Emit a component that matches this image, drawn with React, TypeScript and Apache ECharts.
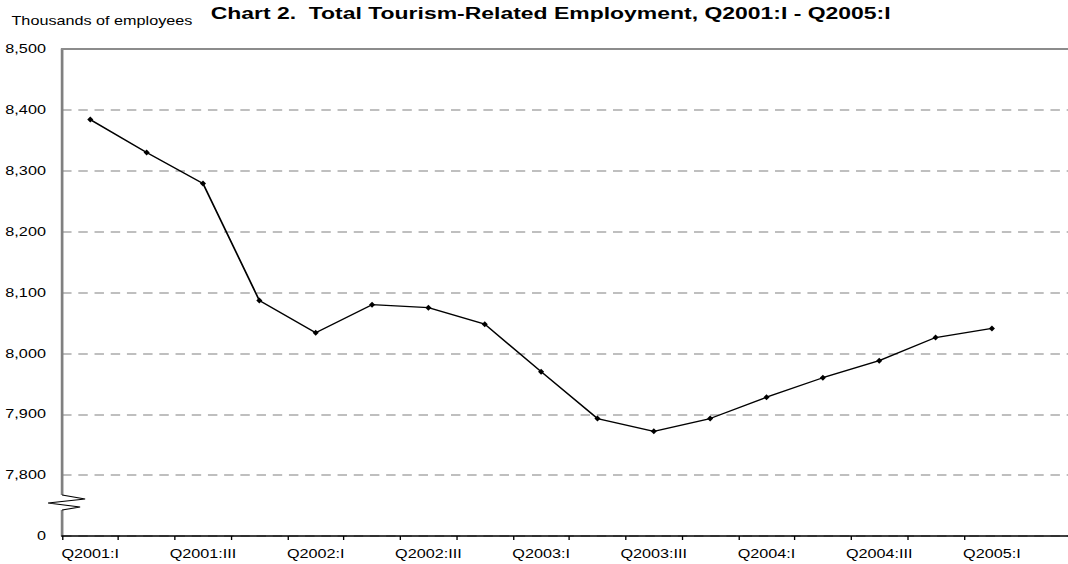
import React, { useEffect, useRef } from "react";
import * as echarts from "echarts";

// ---- data ----
const quarters = [
  "Q2001:I", "Q2001:II", "Q2001:III", "Q2001:IV",
  "Q2002:I", "Q2002:II", "Q2002:III", "Q2002:IV",
  "Q2003:I", "Q2003:II", "Q2003:III", "Q2003:IV",
  "Q2004:I", "Q2004:II", "Q2004:III", "Q2004:IV",
  "Q2005:I",
];
const employment = [
  8384, 8330, 8279, 8087,
  8034, 8080, 8075, 8048,
  7970, 7893, 7872, 7893,
  7928, 7960, 7988, 8026,
  8041,
];
const yMin = 7700; // shown as "0" (broken axis)
const yMax = 8500;
const yStep = 100;
const titleText = "Chart 2.  Total Tourism-Related Employment, Q2001:I - Q2005:I";
const unitText = "Thousands of employees";

// horizontal stretch of the reference picture
const FULL_W = 1068;
const H = 564;
const W = 791;
const S = FULL_W / W;
const X_MAX = 17.85;

export default function App() {
  const ref = useRef<HTMLDivElement>(null);
  useEffect(() => {
    if (!ref.current) return;
    const chart = echarts.init(ref.current, null, { renderer: "svg" });
    const font = "'Liberation Sans', Arial, Helvetica, sans-serif";
    const tickVals = quarters.map((_, i) => i);
    const labelVals = quarters.map((_, i) => i + 0.5).filter((_, i) => i % 2 === 0);
    chart.setOption({
      animation: false,
      backgroundColor: "#ffffff",
      title: [
        {
          text: titleText,
          left: 156,
          top: 5,
          padding: 0,
          textStyle: { fontFamily: font, fontSize: 17, fontWeight: "bold", color: "#000" },
        },
        {
          text: unitText,
          left: 8.5,
          top: 15,
          padding: 0,
          textStyle: { fontFamily: font, fontSize: 12, fontWeight: "normal", color: "#000" },
        },
      ],
      grid: { left: 46, right: 0, top: 49, bottom: 28, containLabel: false },
      xAxis: [
        {
          type: "value",
          min: 0,
          max: X_MAX,
          interval: 1,
          axisLine: { show: true, onZero: false, lineStyle: { color: "#000", width: 1.5 } },
          axisTick: {
            show: true,
            length: 4,
            customValues: tickVals,
            lineStyle: { color: "#000", width: 1 },
          },
          axisLabel: {
            show: true,
            customValues: labelVals,
            margin: 12,
            fontFamily: font,
            fontSize: 12,
            color: "#000",
            formatter: (v: number) => {
              const i = Math.round(v - 0.5);
              if (Math.abs(v - 0.5 - i) < 1e-6 && i >= 0 && i < quarters.length) return quarters[i];
              return "";
            },
          },
          splitLine: { show: false },
        },
        {
          type: "value",
          position: "top",
          min: 0,
          max: X_MAX,
          axisLine: { show: true, lineStyle: { color: "#8c8c8c", width: 2 } },
          axisTick: { show: false },
          axisLabel: { show: false },
          splitLine: { show: false },
        },
      ],
      yAxis: {
        type: "value",
        min: yMin,
        max: yMax,
        interval: yStep,
        axisLine: { show: true, lineStyle: { color: "#808080", width: 2 } },
        axisTick: { show: false },
        axisLabel: {
          margin: 12,
          padding: [3, 0, 0, 0],
          fontFamily: font,
          fontSize: 12,
          color: "#000",
          formatter: (v: number) => (v === yMin ? "0" : v.toLocaleString("en-US")),
        },
        splitLine: {
          show: true,
          lineStyle: { type: [7, 5], color: "#aaaaaa", width: 1.5 },
        },
      },
      graphic: [
        {
          type: "rect",
          z: 100,
          shape: { x: 43, y: 495, width: 6, height: 15 },
          style: { fill: "#ffffff" },
        },
        {
          type: "polyline",
          z: 101,
          shape: {
            points: [
              [46, 495],
              [63, 499],
              [35.6, 503],
              [59.3, 507],
              [46, 510],
            ],
          },
          style: { stroke: "#000", lineWidth: 1.1, fill: "none" },
        },
      ],
      series: [
        {
          type: "line",
          xAxisIndex: 0,
          data: employment.map((v, i) => [i + 0.5, v]),
          symbol: "diamond",
          symbolSize: [4.5, 6],
          showSymbol: true,
          itemStyle: { color: "#000" },
          lineStyle: { color: "#000", width: 1.3 },
        },
      ],
    });
    return () => chart.dispose();
  }, []);
  return (
    <div
      ref={ref}
      style={{
        position: "fixed",
        left: 0,
        top: 0,
        width: W,
        height: H,
        transform: `scaleX(${S})`,
        transformOrigin: "0 0",
      }}
    />
  );
}
